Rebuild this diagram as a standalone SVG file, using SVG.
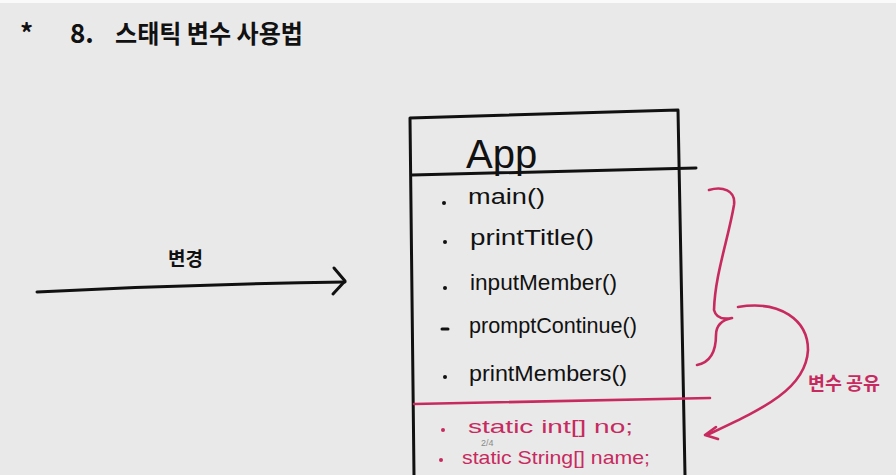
<svg xmlns="http://www.w3.org/2000/svg" width="896" height="475" viewBox="0 0 896 475">
<defs>
<style>
.bg{fill:#e9e9e9}
.ink{fill:none;stroke:#111;stroke-width:3;stroke-linecap:round;stroke-linejoin:round}
.red{fill:none;stroke:#c72a5f;stroke-width:2.6;stroke-linecap:round;stroke-linejoin:round}
.t{font-family:"Liberation Sans","Noto Sans CJK KR",sans-serif;fill:#111}
.k{font-family:"Noto Sans CJK KR","Liberation Sans",sans-serif;fill:#111;font-weight:bold}
.rt{font-family:"Liberation Sans","Noto Sans CJK KR",sans-serif;fill:#c72a5f}
.rk{font-family:"Noto Sans CJK KR",sans-serif;fill:#c72a5f;font-weight:bold}
.dot{fill:#111}
.rdot{fill:#c72a5f}
</style>
</defs>
<rect x="0" y="0" width="896" height="475" class="bg"/>
<rect x="0" y="0" width="896" height="3" fill="#fafafa"/>

<g id="title">
<text class="k" x="20" y="43" font-size="26">*</text>
<text class="k" x="70" y="43" font-size="26">8.</text>
<text class="k" x="115" y="43" font-size="25" textLength="188" lengthAdjust="spacingAndGlyphs">스태틱 변수 사용법</text>
</g>

<g id="connectors">
<path class="ink" d="M37,292 Q190,284 345,282"/>
<path class="ink" d="M334,268 L345,281 L333,294"/>
<path class="red" d="M738,307 C780,300 808,320 808,350 C806,390 760,410 707,435"/>
<path class="red" d="M705,435 L716,427 M705,435 L718,439"/>
</g>

<g id="label-change">
<text class="k" x="168" y="266" font-size="19">변경</text>
</g>

<g id="label-share">
<text class="rk" x="808" y="390" font-size="18" textLength="72" lengthAdjust="spacingAndGlyphs">변수 공유</text>
</g>

<g id="brace">
<path class="red" d="M709,190 C722,186 736,190 734,205 C728,240 715,275 714,310 C716,318 722,320 732,318 C722,320 716,326 716,335 C716,350 712,362 697,365"/>
</g>

<g id="class-App">
<path class="ink" d="M410,118 L678,110 M410,118 L414,475 M678,110 L685,475"/>
<path class="ink" d="M412,175 L696,168"/>
<path class="red" d="M414,404 L710,398"/>
<text class="t" x="466" y="168" font-size="40">App</text>
<circle class="dot" cx="444" cy="203" r="2"/>
<circle class="dot" cx="445" cy="242" r="2"/>
<circle class="dot" cx="445" cy="288" r="2"/>
<path class="ink" d="M442,329 L448,329"/>
<circle class="dot" cx="445" cy="377" r="2"/>
<circle class="rdot" cx="443" cy="430" r="2"/>
<circle class="rdot" cx="441" cy="460" r="2"/>
<g font-size="22">
<text class="t" x="468" y="204" textLength="77" lengthAdjust="spacingAndGlyphs">main()</text>
<text class="t" x="470" y="245" textLength="124" lengthAdjust="spacingAndGlyphs">printTitle()</text>
<text class="t" x="470" y="290" textLength="147" lengthAdjust="spacingAndGlyphs">inputMember()</text>
<text class="t" x="469" y="333" textLength="168" lengthAdjust="spacingAndGlyphs">promptContinue()</text>
<text class="t" x="469" y="381" textLength="158" lengthAdjust="spacingAndGlyphs">printMembers()</text>
</g>
<g font-size="19">
<text class="rt" x="468" y="433" textLength="165" lengthAdjust="spacingAndGlyphs">static int[] no;</text>
<text class="rt" x="462" y="464" textLength="188" lengthAdjust="spacingAndGlyphs">static String[] name;</text>
</g>
</g>

<g id="page-indicator">
<text x="481" y="446" font-family="Liberation Sans,sans-serif" font-size="9" fill="#8a8a8a">2/4</text>
</g>
</svg>
